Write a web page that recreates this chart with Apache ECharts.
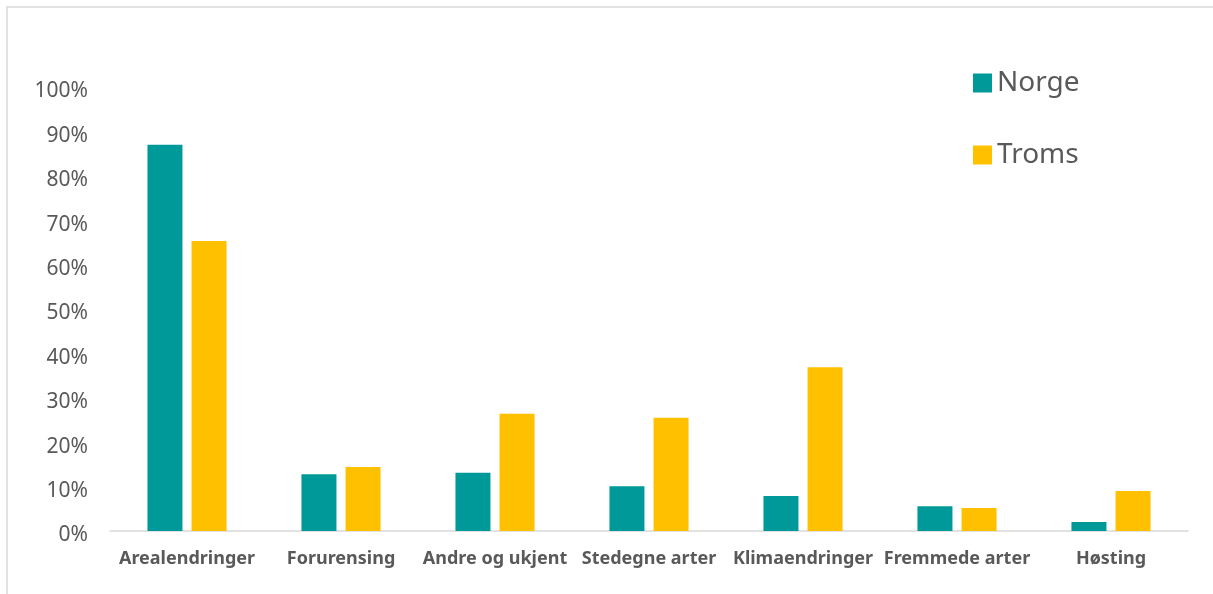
<!DOCTYPE html>
<html><head><meta charset="utf-8">
<script src="https://cdn.jsdelivr.net/npm/echarts@6/dist/echarts.min.js"></script>
<style>html,body{margin:0;padding:0;background:#fff}#c{width:1213px;height:594px}</style>
</head><body><div id="c"></div>
<script>
const categories = ['Arealendringer','Forurensing','Andre og ukjent','Stedegne arter','Klimaendringer','Fremmede arter','Høsting'];
const norge = [0.87, 0.128, 0.131, 0.101, 0.079, 0.056, 0.020];
const troms = [0.653, 0.144, 0.264, 0.255, 0.369, 0.052, 0.090];
const seriesNames = ['Norge','Troms'];
const chart = echarts.init(document.getElementById('c'));
chart.setOption({
  animation:false,
  backgroundColor:'#fff',
  graphic:[{type:'polyline',shape:{points:[[7,594],[7,7],[1213,7]]},style:{stroke:'#d9d9d9',lineWidth:1.5,fill:null},silent:true}],
  grid:{left:110,right:25,top:87,bottom:63},
  legend:{orient:'vertical',left:968,top:64,itemWidth:19,itemHeight:19,itemGap:44,icon:'rect',
    textStyle:{fontSize:28,color:'#595959',fontFamily:'Noto Sans'},data:seriesNames},
  xAxis:{type:'category',data:categories,axisTick:{show:false},
    axisLine:{lineStyle:{color:'#d9d9d9',width:1.5}},
    axisLabel:{fontSize:18,fontWeight:'bold',color:'#595959',margin:19,fontFamily:'Noto Sans',interval:0}},
  yAxis:{type:'value',min:0,max:1,interval:0.1,splitLine:{show:false},axisLine:{show:false},axisTick:{show:false},
    axisLabel:{fontSize:21,color:'#595959',margin:22,fontFamily:'Noto Sans',verticalAlign:'top',lineHeight:9,
      formatter:v=>Math.round(v*100)+'%'}},
  series:[
    {name:'Norge',type:'bar',data:norge,itemStyle:{color:'#009999'},barWidth:35,barGap:'26%'},
    {name:'Troms',type:'bar',data:troms,itemStyle:{color:'#FFC000'},barWidth:35}
  ]
});
</script></body></html>
